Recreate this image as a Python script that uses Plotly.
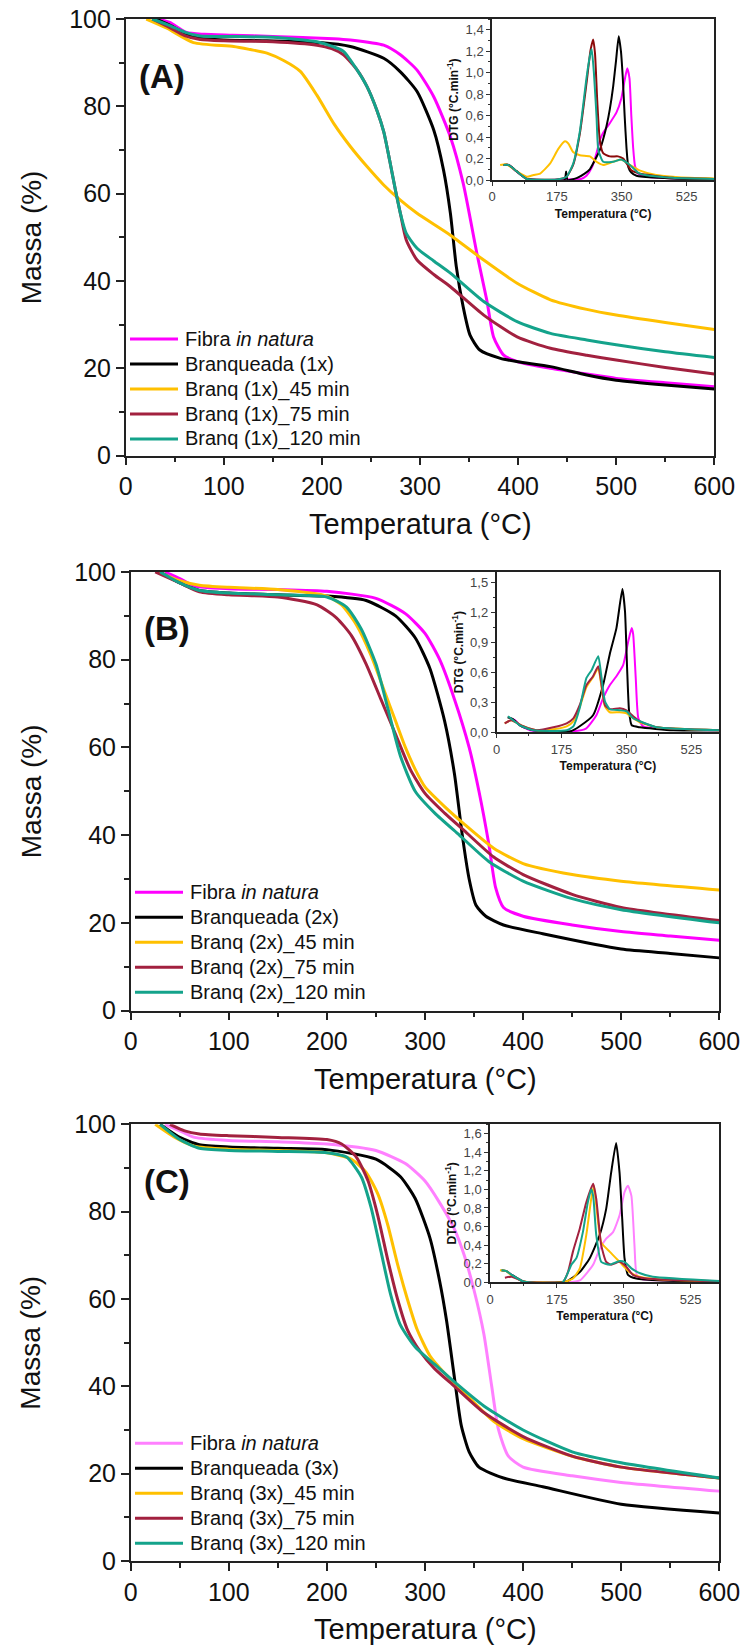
import plotly.graph_objects as go

# ---------------- DATA ----------------
names_A = ["Fibra <i>in natura</i>", "Branqueada (1x)", "Branq (1x)_45 min", "Branq (1x)_75 min", "Branq (1x)_120 min"]
names_B = ["Fibra <i>in natura</i>", "Branqueada (2x)", "Branq (2x)_45 min", "Branq (2x)_75 min", "Branq (2x)_120 min"]
names_C = ["Fibra <i>in natura</i>", "Branqueada (3x)", "Branq (3x)_45 min", "Branq (3x)_75 min", "Branq (3x)_120 min"]

colors_A = ["#FF00FF", "#000000", "#FFC000", "#A2213F", "#14A38B"]
colors_B = ["#FF00FF", "#000000", "#FFC000", "#A2213F", "#14A38B"]
colors_C = ["#FF80FF", "#000000", "#FFC000", "#A2213F", "#14A38B"]
colors_A_inset = ["#FF00FF", "#000000", "#FFC000", "#8B0A0A", "#14A38B"]

# Panel A - TG
A_fibra_T = [33, 45, 62, 80, 109, 150, 212, 229, 263, 280, 297, 314, 331, 344, 358, 368, 375, 385, 400, 433, 470, 500, 550, 600]
A_fibra_M = [100, 99.2, 96.9, 96.5, 96.3, 96.0, 95.5, 95.2, 94.0, 91.8, 88.3, 82.2, 73.0, 62.4, 46.3, 35.7, 27.2, 23.1, 21.5, 20.0, 18.7, 17.7, 16.7, 15.8]
A_bra_T = [31, 45, 60, 76, 100, 144, 198, 229, 263, 280, 297, 314, 324, 331, 337, 344, 351, 361, 382, 400, 433, 470, 500, 550, 600]
A_bra_M = [100, 98.6, 96.8, 95.6, 95.2, 95.0, 94.6, 93.7, 91.0, 87.9, 83.4, 74.6, 65.4, 55.5, 43.3, 34.1, 27.6, 24.2, 22.3, 21.5, 20.4, 18.5, 17.3, 16.2, 15.3]
A_45_T = [21, 42, 69, 110, 127, 144, 161, 178, 195, 212, 229, 246, 263, 280, 297, 331, 365, 399, 433, 470, 500, 550, 600]
A_45_M = [100, 97.9, 94.6, 93.7, 93.0, 92.2, 90.5, 88.0, 82.5, 76.1, 70.8, 66.2, 62.0, 58.5, 55.5, 50.5, 44.8, 39.5, 35.7, 33.5, 32.2, 30.5, 28.9]
A_75_T = [27, 45, 60, 76, 100, 150, 195, 210, 222, 236, 246, 256, 263, 269, 275, 280, 286, 297, 314, 331, 365, 399, 433, 470, 500, 550, 600]
A_75_M = [100, 98.0, 96.2, 95.3, 95.0, 94.8, 94.0, 93.2, 91.8, 88.3, 84.5, 79.1, 74.2, 67.7, 60.8, 55.5, 49.4, 44.8, 41.5, 38.7, 32.2, 27.2, 24.6, 23.0, 21.9, 20.2, 18.7]
A_120_T = [27, 45, 60, 76, 100, 150, 195, 210, 222, 236, 246, 256, 263, 269, 275, 280, 286, 297, 314, 331, 365, 399, 433, 470, 500, 550, 600]
A_120_M = [100, 98.5, 97.0, 96.1, 96.0, 95.8, 94.8, 93.8, 92.6, 88.3, 84.5, 79.1, 74.2, 67.7, 60.8, 55.5, 50.9, 47.5, 44.6, 41.8, 35.3, 30.7, 28.0, 26.5, 25.4, 23.8, 22.5]

# Panel A - DTG inset
A_fibra_dT = [31, 45, 67, 94, 130, 219, 240, 255, 270, 282, 291, 300, 318, 336, 349, 358, 365, 371, 376, 381, 386, 394, 420, 500, 600]
A_fibra_D = [0.14, 0.14, 0.077, 0.015, 0.0, 0.006, 0.01, 0.04, 0.12, 0.25, 0.37, 0.44, 0.53, 0.63, 0.76, 0.93, 1.04, 0.95, 0.6, 0.3, 0.13, 0.06, 0.03, 0.015, 0.01]
A_bra_dT = [31, 45, 67, 94, 150, 196, 200, 204, 230, 250, 264, 280, 291, 300, 309, 318, 327, 335, 342, 348, 353, 358, 363, 368, 376, 390, 450, 520, 600]
A_bra_D = [0.14, 0.14, 0.08, 0.01, 0.0, 0.0, 0.08, 0.0, 0.02, 0.06, 0.1, 0.2, 0.28, 0.38, 0.5, 0.66, 0.87, 1.12, 1.34, 1.2, 0.95, 0.6, 0.3, 0.12, 0.07, 0.04, 0.02, 0.01, 0.01]
A_45_dT = [22, 40, 67, 94, 112, 130, 157, 179, 197, 206, 219, 237, 264, 282, 300, 327, 349, 372, 398, 443, 488, 533, 600]
A_45_D = [0.14, 0.145, 0.08, 0.03, 0.046, 0.06, 0.155, 0.29, 0.36, 0.34, 0.26, 0.23, 0.22, 0.17, 0.14, 0.17, 0.19, 0.14, 0.09, 0.046, 0.03, 0.02, 0.015]
A_75_dT = [31, 45, 67, 94, 175, 201, 219, 237, 255, 266, 273, 278, 284, 291, 300, 318, 340, 354, 376, 398, 488, 600]
A_75_D = [0.14, 0.14, 0.08, 0.01, 0.005, 0.03, 0.14, 0.43, 0.9, 1.21, 1.31, 1.18, 0.74, 0.37, 0.25, 0.22, 0.22, 0.2, 0.09, 0.06, 0.02, 0.01]
A_120_dT = [31, 45, 67, 94, 175, 201, 219, 237, 255, 264, 269, 275, 282, 287, 300, 327, 349, 372, 398, 488, 600]
A_120_D = [0.14, 0.14, 0.08, 0.01, 0.005, 0.03, 0.15, 0.45, 0.95, 1.15, 1.22, 1.0, 0.6, 0.28, 0.17, 0.17, 0.19, 0.14, 0.06, 0.02, 0.01]

# Panel B - TG
B_fibra_T = [35, 50, 65, 100, 150, 200, 250, 280, 300, 315, 330, 345, 355, 365, 372, 380, 400, 450, 500, 550, 600]
B_fibra_M = [100, 98.5, 96.8, 96.2, 96.0, 95.6, 94.0, 90.5, 86, 80, 71, 60, 50, 38, 28, 23.5, 21.5, 19.5, 18.0, 17.0, 16.0]
B_bra_T = [30, 50, 70, 100, 150, 200, 240, 270, 290, 305, 320, 330, 338, 345, 352, 362, 380, 420, 500, 550, 600]
B_bra_M = [100, 97.5, 95.8, 95.2, 94.8, 94.5, 93.5, 90, 85, 78, 66, 54, 40, 30, 24, 21.5, 19.5, 17.5, 14, 13, 12]
B_45_T = [28, 50, 70, 100, 150, 200, 215, 230, 245, 260, 270, 280, 290, 300, 320, 340, 370, 400, 450, 500, 600]
B_45_M = [100, 98, 97, 96.5, 96, 94.5, 92.5, 88, 81, 72, 66, 60, 55, 51, 46.5, 42.5, 37, 33.5, 31, 29.5, 27.5]
B_75_T = [25, 50, 70, 100, 150, 190, 210, 225, 240, 255, 270, 285, 300, 320, 340, 370, 400, 450, 500, 600]
B_75_M = [100, 97.5, 95.5, 94.8, 94.3, 92.5, 89.5, 85.5, 79, 71, 63, 55, 49.5, 45, 41, 35, 31, 26.5, 23.5, 20.5]
B_120_T = [30, 50, 70, 100, 150, 200, 220, 235, 250, 262, 275, 290, 310, 335, 365, 400, 450, 500, 600]
B_120_M = [100, 97.5, 95.8, 95.2, 94.8, 94.3, 92, 87, 79, 69, 58, 50, 45, 40, 34, 29.5, 25.5, 23, 20]

# Panel B - DTG inset
B_fibra_dT = [36, 50, 63, 90, 207, 242, 269, 287, 305, 323, 341, 355, 364, 368, 375, 382, 395, 476, 600]
B_fibra_D = [0.14, 0.12, 0.07, 0.02, 0.01, 0.04, 0.17, 0.34, 0.47, 0.56, 0.67, 0.91, 1.04, 0.98, 0.54, 0.14, 0.06, 0.03, 0.02]
B_bra_dT = [30, 45, 63, 99, 200, 224, 260, 287, 305, 323, 339, 346, 352, 357, 364, 386, 476, 600]
B_bra_D = [0.15, 0.13, 0.07, 0.02, 0.01, 0.06, 0.17, 0.47, 0.78, 1.04, 1.43, 1.21, 0.61, 0.21, 0.07, 0.05, 0.02, 0.02]
B_45_dT = [22, 40, 72, 108, 153, 189, 207, 224, 242, 260, 274, 283, 292, 305, 332, 350, 368, 386, 431, 600]
B_45_D = [0.09, 0.12, 0.06, 0.02, 0.03, 0.06, 0.11, 0.25, 0.45, 0.55, 0.64, 0.45, 0.26, 0.2, 0.2, 0.19, 0.14, 0.1, 0.05, 0.02]
B_75_dT = [22, 40, 72, 108, 153, 189, 207, 224, 242, 260, 274, 283, 292, 305, 332, 350, 368, 386, 431, 600]
B_75_D = [0.09, 0.12, 0.06, 0.02, 0.05, 0.09, 0.14, 0.27, 0.47, 0.56, 0.66, 0.47, 0.27, 0.23, 0.24, 0.22, 0.16, 0.11, 0.05, 0.02]
B_120_dT = [31, 45, 63, 99, 189, 207, 224, 242, 256, 274, 283, 292, 305, 332, 350, 368, 386, 431, 600]
B_120_D = [0.16, 0.12, 0.07, 0.02, 0.02, 0.06, 0.24, 0.54, 0.62, 0.76, 0.54, 0.31, 0.23, 0.22, 0.21, 0.14, 0.11, 0.05, 0.02]

# Panel C - TG
C_fibra_T = [35, 50, 65, 100, 150, 200, 250, 280, 300, 315, 330, 340, 350, 360, 368, 375, 385, 400, 450, 500, 600]
C_fibra_M = [100, 98.5, 97, 96.3, 96, 95.5, 94, 91, 87, 82, 76, 70, 62, 52, 40, 30, 24, 21.5, 19.5, 18, 16]
C_bra_T = [30, 50, 70, 100, 150, 200, 250, 275, 290, 305, 315, 322, 330, 337, 345, 355, 380, 420, 500, 600]
C_bra_M = [100, 97, 95.3, 94.8, 94.5, 94.2, 92, 88, 83, 74, 64, 55, 42, 31, 25, 21.5, 19, 17, 13, 11]
C_45_T = [25, 45, 65, 100, 150, 200, 225, 240, 252, 262, 272, 282, 292, 305, 320, 340, 370, 400, 450, 500, 600]
C_45_M = [100, 97, 95, 94.3, 94, 93.5, 92, 89, 84, 77, 68, 60, 53, 47, 43, 38.5, 32, 28, 24, 21.5, 19]
C_75_T = [40, 55, 70, 100, 150, 200, 215, 230, 242, 252, 262, 272, 282, 295, 310, 330, 360, 400, 450, 500, 600]
C_75_M = [100, 98.5, 97.8, 97.4, 97, 96.5, 95.5, 92.5, 87, 79, 69, 60, 53, 48, 44, 40, 34, 28.5, 24, 21.5, 19]
C_120_T = [30, 50, 70, 100, 150, 200, 220, 235, 245, 255, 265, 275, 290, 310, 330, 360, 400, 450, 500, 600]
C_120_M = [100, 96.5, 94.5, 94, 93.8, 93.5, 92.5, 88, 81, 71, 61, 54, 49, 45, 41, 35.5, 30, 25, 22.5, 19]

# Panel C - DTG inset
C_fibra_dT = [30, 43, 57, 87, 200, 235, 270, 287, 304, 322, 339, 352, 361, 370, 378, 384, 400, 450, 600]
C_fibra_D = [0.125, 0.12, 0.08, 0.01, 0.0, 0.02, 0.19, 0.36, 0.47, 0.54, 0.72, 0.97, 1.04, 0.93, 0.4, 0.08, 0.03, 0.02, 0.01]
C_bra_dT = [30, 43, 57, 87, 200, 235, 261, 287, 304, 317, 330, 339, 346, 352, 361, 383, 450, 600]
C_bra_D = [0.13, 0.12, 0.08, 0.01, 0.01, 0.11, 0.26, 0.51, 0.79, 1.18, 1.5, 1.18, 0.68, 0.26, 0.08, 0.04, 0.02, 0.01]
C_45_dT = [26, 43, 57, 87, 190, 217, 235, 252, 265, 272, 278, 291, 313, 339, 365, 391, 450, 600]
C_45_D = [0.13, 0.12, 0.07, 0.01, 0.0, 0.04, 0.15, 0.51, 0.9, 1.04, 0.83, 0.43, 0.33, 0.22, 0.11, 0.06, 0.03, 0.01]
C_75_dT = [39, 57, 70, 87, 190, 204, 217, 235, 252, 270, 278, 291, 304, 317, 339, 356, 374, 409, 600]
C_75_D = [0.05, 0.06, 0.04, 0.01, 0.0, 0.11, 0.33, 0.58, 0.86, 1.06, 0.9, 0.4, 0.22, 0.19, 0.22, 0.17, 0.08, 0.04, 0.01]
C_120_dT = [30, 43, 57, 87, 190, 213, 226, 243, 256, 265, 270, 278, 291, 313, 339, 352, 370, 391, 426, 600]
C_120_D = [0.13, 0.12, 0.08, 0.01, 0.0, 0.19, 0.26, 0.54, 0.86, 1.0, 0.93, 0.51, 0.22, 0.19, 0.23, 0.22, 0.15, 0.1, 0.06, 0.015]

# tick values
main_x_ticks = [0, 100, 200, 300, 400, 500, 600]
main_y_ticks = [0, 20, 40, 60, 80, 100]
inset_x_ticks = [0, 175, 350, 525]

# ---------------- LAYOUT HELPERS ----------------
W, H = 744, 1647
FONT = "Liberation Sans, Arial, sans-serif"

def xd(a, b):
    return [a / W, b / W]

def yd(top, bottom):
    return [1 - bottom / H, 1 - top / H]

panels = [
    dict(label="(A)", names=names_A, colors=colors_A, icolors=colors_A_inset,
         tg=[(A_fibra_T, A_fibra_M), (A_bra_T, A_bra_M), (A_45_T, A_45_M), (A_75_T, A_75_M), (A_120_T, A_120_M)],
         dtg=[(A_fibra_dT, A_fibra_D), (A_bra_dT, A_bra_D), (A_45_dT, A_45_D), (A_75_dT, A_75_D), (A_120_dT, A_120_D)],
         main_box=(125.7, 714.3, 19, 455.7), inset_box=(492, 714.3, 19, 180),
         irange=1.5, idtick=0.2, legend_y0=339, legend_x=(130, 178, 183)),
    dict(label="(B)", names=names_B, colors=colors_B, icolors=colors_B,
         tg=[(B_fibra_T, B_fibra_M), (B_bra_T, B_bra_M), (B_45_T, B_45_M), (B_75_T, B_75_M), (B_120_T, B_120_M)],
         dtg=[(B_fibra_dT, B_fibra_D), (B_bra_dT, B_bra_D), (B_45_dT, B_45_D), (B_75_dT, B_75_D), (B_120_dT, B_120_D)],
         main_box=(130.7, 719.3, 572, 1010.5), inset_box=(496.5, 719.3, 572, 732.3),
         irange=1.6, idtick=0.3, legend_y0=892.3, legend_x=(135, 183, 188)),
    dict(label="(C)", names=names_C, colors=colors_C, icolors=colors_C,
         tg=[(C_fibra_T, C_fibra_M), (C_bra_T, C_bra_M), (C_45_T, C_45_M), (C_75_T, C_75_M), (C_120_T, C_120_M)],
         dtg=[(C_fibra_dT, C_fibra_D), (C_bra_dT, C_bra_D), (C_45_dT, C_45_D), (C_75_dT, C_75_D), (C_120_dT, C_120_D)],
         main_box=(130.7, 719.3, 1124.3, 1561), inset_box=(490, 719.3, 1124.3, 1282.3),
         irange=1.7, idtick=0.2, legend_y0=1443.3, legend_x=(135, 183, 188)),
]

fig = go.Figure()
layout = dict(width=W, height=H, margin=dict(l=0, r=0, t=0, b=0, autoexpand=False),
              paper_bgcolor="white", plot_bgcolor="white", showlegend=False,
              separators=", ", font=dict(family=FONT, color="#111"))
shapes = []
annotations = []
LINEC = "#222222"

for i, p in enumerate(panels):
    mi = 2 * i + 1
    ii = 2 * i + 2
    mx = "x" if mi == 1 else f"x{mi}"
    my = "y" if mi == 1 else f"y{mi}"
    ix, iy = f"x{ii}", f"y{ii}"
    l, r, t, b = p["main_box"]
    il, ir, it, ib = p["inset_box"]

    for (T, M), c in zip(p["tg"], p["colors"]):
        fig.add_trace(go.Scatter(x=T, y=M, mode="lines", xaxis=mx, yaxis=my,
                                 line=dict(color=c, width=3, shape="spline", smoothing=0.6),
                                 hoverinfo="skip"))
    for (T, D), c in zip(p["dtg"], p["icolors"]):
        fig.add_trace(go.Scatter(x=T, y=D, mode="lines", xaxis=ix, yaxis=iy,
                                 line=dict(color=c, width=2, shape="spline", smoothing=0.5),
                                 hoverinfo="skip"))

    key_mx = "xaxis" if mi == 1 else f"xaxis{mi}"
    key_my = "yaxis" if mi == 1 else f"yaxis{mi}"
    layout[key_mx] = dict(domain=xd(l, r), anchor=my, range=[0, 600], tickvals=main_x_ticks,
                          automargin=False,
                          ticks="outside", ticklen=8, tickwidth=1.5, tickcolor=LINEC,
                          showline=True, linewidth=1.5, linecolor=LINEC, mirror=True,
                          showgrid=False, zeroline=False,
                          tickfont=dict(size=25, color="#111", family=FONT),
                          minor=dict(dtick=50, tick0=0, ticks="outside", ticklen=5, tickwidth=1.5, tickcolor=LINEC))
    layout[key_my] = dict(domain=yd(t, b), anchor=mx, range=[0, 100], tickvals=main_y_ticks,
                          automargin=False,
                          ticks="outside", ticklen=8, tickwidth=1.5, tickcolor=LINEC,
                          showline=True, linewidth=1.5, linecolor=LINEC, mirror=True,
                          showgrid=False, zeroline=False,
                          tickfont=dict(size=25, color="#111", family=FONT),
                          minor=dict(dtick=10, tick0=0, ticks="outside", ticklen=5, tickwidth=1.5, tickcolor=LINEC))
    layout[f"xaxis{ii}"] = dict(domain=xd(il, ir), anchor=iy, range=[0, 600], tickvals=inset_x_ticks,
                                automargin=False,
                                ticks="outside", ticklen=4, tickwidth=1, tickcolor="#333",
                                showline=True, linewidth=1.5, linecolor=LINEC, mirror=True,
                                showgrid=False, zeroline=False,
                                tickfont=dict(size=13, color="#444", family=FONT),
                                minor=dict(dtick=87.5, tick0=0, ticks="outside", ticklen=2, tickcolor="#333"),
                                title=dict(text="<b>Temperatura (°C)</b>", font=dict(size=12, color="#111"), standoff=6))
    layout[f"yaxis{ii}"] = dict(domain=yd(it, ib), anchor=ix, range=[0, p["irange"]], dtick=p["idtick"], tick0=0,
                                tickformat=".1f", automargin=False,
                                ticks="outside", ticklen=4, tickwidth=1, tickcolor="#333",
                                showline=True, linewidth=1.5, linecolor=LINEC, mirror=True,
                                showgrid=False, zeroline=False,
                                tickfont=dict(size=13, color="#444", family=FONT),
                                minor=dict(dtick=p["idtick"] / 2, tick0=0, ticks="outside", ticklen=2, tickcolor="#333"),
                                title=dict(text="<b>DTG (°C.min<sup>-1</sup>)</b>", font=dict(size=12, color="#111"), standoff=4))

    # panel label
    annotations.append(dict(text=f"<b>{p['label']}</b>", x=(l + 11) / W, y=1 - (t + 57) / H, xref="paper", yref="paper",
                            xanchor="left", yanchor="middle", showarrow=False, font=dict(size=33, color="#111", family=FONT)))
    # axis titles
    annotations.append(dict(text="Temperatura (°C)", x=((l + r) / 2) / W, y=1 - (b + 68) / H, xref="paper", yref="paper",
                            xanchor="center", yanchor="middle", showarrow=False, font=dict(size=29, color="#111", family=FONT)))
    annotations.append(dict(text="Massa (%)", x=31 / W, y=1 - ((t + b) / 2) / H, xref="paper", yref="paper",
                            xanchor="center", yanchor="middle", textangle=-90, showarrow=False,
                            font=dict(size=28, color="#111", family=FONT)))
    # legend (manual)
    lx0, lx1, tx = p["legend_x"]
    for k, (nm, c) in enumerate(zip(p["names"], p["colors"])):
        yy = p["legend_y0"] + 25 * k
        shapes.append(dict(type="line", xref="paper", yref="paper", x0=lx0 / W, x1=lx1 / W,
                           y0=1 - yy / H, y1=1 - yy / H, line=dict(color=c, width=3)))
        annotations.append(dict(text=nm, x=tx / W, y=1 - yy / H, xref="paper", yref="paper",
                                xanchor="left", yanchor="middle", showarrow=False,
                                font=dict(size=20, color="#111", family=FONT)))

layout["shapes"] = shapes
layout["annotations"] = annotations
fig.update_layout(**layout)
fig.write_html("out.html")
